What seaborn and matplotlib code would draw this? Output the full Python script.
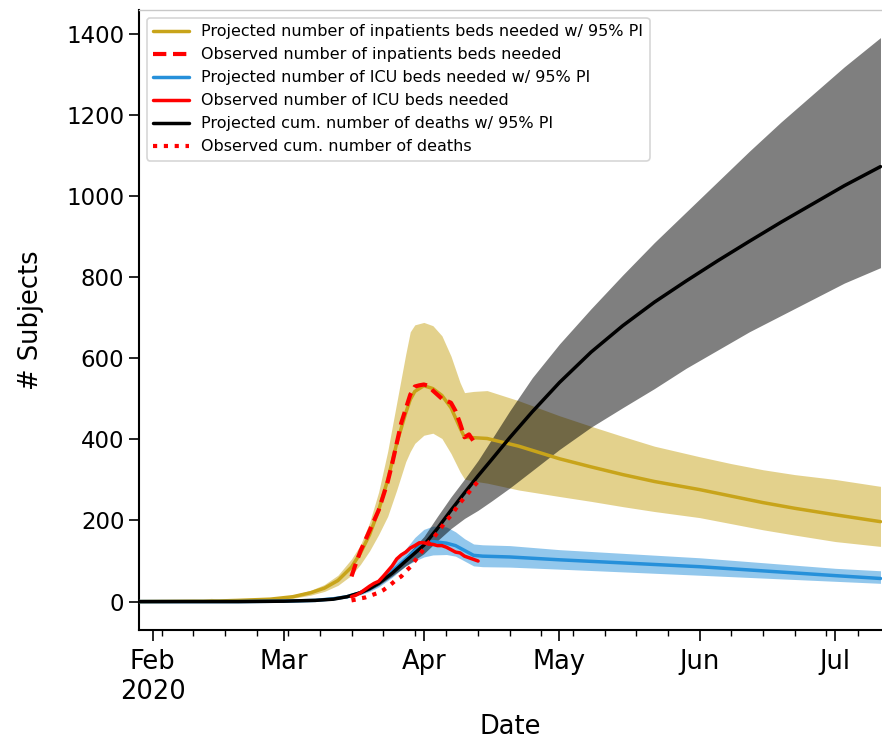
import matplotlib
matplotlib.use("Agg")
import matplotlib.pyplot as plt
import matplotlib.dates as mdates
import seaborn as sns
import pandas as pd

# ---------------- data ----------------
inp_dates = ["2020-01-29", "2020-02-10", "2020-02-14", "2020-02-17", "2020-02-20", "2020-02-27",
             "2020-03-03", "2020-03-07", "2020-03-10", "2020-03-13", "2020-03-16", "2020-03-18",
             "2020-03-20", "2020-03-22", "2020-03-24", "2020-03-26", "2020-03-28", "2020-03-29",
             "2020-03-30", "2020-04-01", "2020-04-03", "2020-04-05", "2020-04-07", "2020-04-09",
             "2020-04-10", "2020-04-12", "2020-04-15", "2020-04-22", "2020-05-01", "2020-05-08",
             "2020-05-15", "2020-05-22", "2020-06-01", "2020-06-08", "2020-06-15", "2020-06-22",
             "2020-07-01", "2020-07-11"]
inp_mid = [0, 1, 1, 2, 3, 6, 12, 22, 33, 52, 85, 120, 165, 225, 300, 390, 465, 498,
           518, 532, 525, 508, 478, 428, 405, 404, 402, 383, 352, 332, 313, 296, 276, 260,
           244, 230, 214, 197]
inp_low = [0, 0, 0, 1, 2, 4, 8, 16, 25, 40, 65, 92, 125, 165, 210, 275, 345, 370,
           390, 410, 415, 402, 365, 320, 302, 297, 292, 275, 259, 247, 234, 222, 207, 192,
           177, 164, 148, 136]
inp_high = [0, 2, 8, 3, 5, 9, 16, 28, 42, 65, 105, 140, 195, 270, 370, 490, 610, 665,
            682, 688, 680, 655, 605, 540, 515, 518, 520, 495, 458, 432, 407, 383, 357, 340,
            325, 313, 301, 284]

icu_dates = ["2020-01-29", "2020-02-20", "2020-03-01", "2020-03-08", "2020-03-12", "2020-03-15",
             "2020-03-18", "2020-03-20", "2020-03-22", "2020-03-25", "2020-03-28", "2020-03-30",
             "2020-04-01", "2020-04-03", "2020-04-06", "2020-04-08", "2020-04-10", "2020-04-12",
             "2020-04-14", "2020-04-20", "2020-05-01", "2020-06-01", "2020-07-01", "2020-07-11"]
icu_mid = [0, 0, 1, 3, 7, 12, 22, 32, 45, 75, 105, 125, 142, 148, 144, 138, 126, 114, 112, 110, 103, 86, 64, 57]
icu_low = [0, 0, 1, 2, 5, 9, 17, 25, 36, 60, 88, 100, 110, 115, 116, 112, 100, 88, 86, 85, 80, 65, 50, 45]
icu_high = [0, 0, 1, 4, 9, 16, 28, 40, 56, 92, 130, 158, 178, 186, 184, 172, 155, 142, 140, 138, 128, 108, 82, 76]

death_dates = ["2020-01-29", "2020-02-20", "2020-03-01", "2020-03-08", "2020-03-12", "2020-03-15",
               "2020-03-18", "2020-03-20", "2020-03-22", "2020-03-25", "2020-03-28", "2020-04-01",
               "2020-04-04", "2020-04-07", "2020-04-10", "2020-04-13", "2020-04-16", "2020-04-20",
               "2020-04-25", "2020-05-01", "2020-05-08", "2020-05-15", "2020-05-22", "2020-05-29",
               "2020-06-05", "2020-06-12", "2020-06-19", "2020-06-26", "2020-07-03", "2020-07-11"]
death_mid = [0, 0, 1, 3, 6, 12, 22, 32, 45, 70, 100, 139, 180, 225, 268, 310, 350, 404,
             468, 540, 615, 680, 738, 790, 840, 888, 935, 980, 1025, 1072]
death_low = [0, 0, 1, 2, 5, 10, 19, 28, 40, 63, 88, 118, 150, 180, 205, 225, 248, 280,
             323, 375, 430, 478, 525, 575, 620, 665, 705, 745, 785, 823]
death_high = [0, 0, 1, 3, 7, 14, 25, 36, 50, 77, 112, 160, 210, 258, 302, 348, 400, 470,
              552, 635, 722, 805, 885, 960, 1035, 1110, 1182, 1250, 1318, 1390]

obs_dates = pd.date_range("2020-03-16", "2020-04-13", freq="D")
obs_inp = [62, 95, 125, 150, 175, 200, 225, 260, 295, 340, 390, 440, 475, 510, 530,
           533, 535, 532, 520, 510, 500, 495, 490, 470, 440, 405, 412, 395, 390]
obs_icu = [12, 16, 22, 30, 38, 45, 50, 62, 75, 88, 105, 115, 122, 132, 138,
           145, 145, 142, 141, 138, 138, 134, 128, 122, 120, 112, 108, 104, 100]
obs_death = [3, 5, 8, 10, 14, 18, 22, 28, 36, 45, 55, 62, 75, 85, 100,
             115, 130, 145, 155, 170, 185, 200, 212, 228, 243, 257, 270, 284, 296]

labels = ["Projected number of inpatients beds needed w/ 95% PI",
          "Observed number of inpatients beds needed",
          "Projected number of ICU beds needed w/ 95% PI",
          "Observed number of ICU beds needed",
          "Projected cum. number of deaths w/ 95% PI",
          "Observed cum. number of deaths"]

GOLD = "#C8A41A"
BLUE = "#2690DA"
RED = "#FF0000"

# ---------------- plot ----------------
sns.set_style("ticks")
plt.rcParams["font.family"] = ["DejaVu Sans"]
plt.rcParams["text.color"] = "black"
plt.rcParams["axes.labelcolor"] = "black"
plt.rcParams["xtick.color"] = "black"
plt.rcParams["ytick.color"] = "black"

fig = plt.figure(figsize=(8.82, 7.4), dpi=100)
ax = fig.add_axes([139 / 882, 1 - 630 / 740, 1 - 139 / 882, (630 - 10) / 740])

inp = pd.DataFrame({"date": pd.to_datetime(inp_dates), "mid": inp_mid, "low": inp_low, "high": inp_high})
icu = pd.DataFrame({"date": pd.to_datetime(icu_dates), "mid": icu_mid, "low": icu_low, "high": icu_high})
dth = pd.DataFrame({"date": pd.to_datetime(death_dates), "mid": death_mid, "low": death_low, "high": death_high})
obs = pd.DataFrame({"date": obs_dates, "inp": obs_inp, "icu": obs_icu, "death": obs_death})

ax.fill_between(inp["date"], inp["low"], inp["high"], color=GOLD, alpha=0.5, lw=0, zorder=1)
ax.fill_between(icu["date"], icu["low"], icu["high"], color=BLUE, alpha=0.5, lw=0, zorder=1)
ax.fill_between(dth["date"], dth["low"], dth["high"], color="black", alpha=0.5, lw=0, zorder=1)

LW = 2.5
sns.lineplot(data=inp, x="date", y="mid", color=GOLD, lw=LW, ax=ax, label=labels[0], zorder=3)
sns.lineplot(data=obs, x="date", y="inp", color=RED, lw=LW + 0.5, ls=(0, (3.2, 1.6)), ax=ax, label=labels[1], zorder=4)
sns.lineplot(data=icu, x="date", y="mid", color=BLUE, lw=LW, ax=ax, label=labels[2], zorder=3)
sns.lineplot(data=obs, x="date", y="icu", color=RED, lw=LW, ax=ax, label=labels[3], zorder=4)
sns.lineplot(data=dth, x="date", y="mid", color="black", lw=LW, ax=ax, label=labels[4], zorder=3)
sns.lineplot(data=obs, x="date", y="death", color=RED, lw=LW + 0.5, ls=(0, (1, 1.6)), ax=ax, label=labels[5], zorder=4)

ax.set_xlim(pd.Timestamp("2020-01-29"), pd.Timestamp("2020-07-11 08:00"))
ax.set_ylim(-70, 1458)
ax.set_yticks(range(0, 1401, 200))

ax.xaxis.set_major_locator(mdates.MonthLocator())
ax.xaxis.set_minor_locator(mdates.WeekdayLocator(byweekday=mdates.MO))


def fmt(x, pos):
    d = mdates.num2date(x)
    s = d.strftime("%b")
    if d.month == 2:
        s += "\n2020"
    return s


ax.xaxis.set_major_formatter(plt.FuncFormatter(fmt))
ax.tick_params(axis="y", which="major", labelsize=16.5, length=7, width=1.2, color="black")
ax.tick_params(axis="x", which="major", labelsize=18.5, length=8, width=1.2, color="black", pad=6)
ax.tick_params(axis="x", which="minor", length=4, width=1.0)
ax.set_xlabel("Date", fontsize=18.5, labelpad=6)
ax.set_ylabel("# Subjects", fontsize=18.5, labelpad=16)

for s in ["left", "bottom"]:
    ax.spines[s].set_color("black")
    ax.spines[s].set_linewidth(1.5)
ax.spines["top"].set_color("#c8c8c8")
ax.spines["top"].set_linewidth(1.0)
ax.spines["right"].set_visible(False)

leg = ax.legend(loc="upper left", bbox_to_anchor=(0.0, 1.0), fontsize=11.5,
                handlelength=2.2, labelspacing=0.5, borderaxespad=0.5,
                frameon=True, fancybox=True, edgecolor="#cccccc")
leg.get_frame().set_linewidth(1.2)

fig.savefig("out.png", dpi=100)
